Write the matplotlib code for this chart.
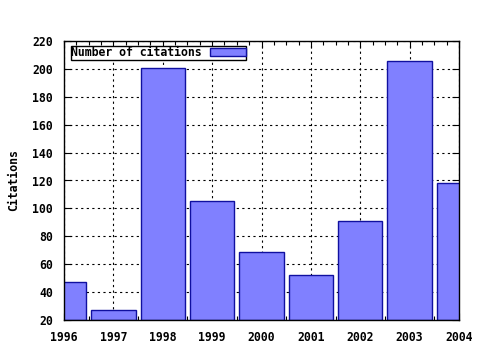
import matplotlib
matplotlib.use("Agg")
import matplotlib.pyplot as plt
from matplotlib.ticker import MultipleLocator, AutoMinorLocator

years = [1996, 1997, 1998, 1999, 2000, 2001, 2002, 2003, 2004]
citations = [47, 27, 201, 105, 69, 52, 91, 206, 118]
series_label = "Number of citations"
y_label = "Citations"

FS = 8.3
plt.rcParams["font.family"] = "DejaVu Sans Mono"
plt.rcParams["font.weight"] = "bold"

fig = plt.figure(figsize=(4.8, 3.5), dpi=100)
ax = fig.add_axes([64/480, 1-320/350, (459-64)/480, (320-41)/350])

ax.bar(years, [c - 20 for c in citations], bottom=20, width=0.9,
       color="#8080ff", edgecolor="#1010a0", linewidth=1.0,
       label=series_label, zorder=3)

ax.set_xlim(1996, 2004)
ax.set_ylim(20, 220)
ax.xaxis.set_major_locator(MultipleLocator(1))
ax.xaxis.set_minor_locator(AutoMinorLocator(4))
ax.yaxis.set_major_locator(MultipleLocator(20))
ax.tick_params(which="both", direction="in", top=True, right=True, labelsize=FS, width=0.8)
ax.tick_params(which="major", length=5)
ax.tick_params(which="minor", length=3)
ax.tick_params(axis="x", pad=8)
ax.tick_params(axis="y", pad=8)
for lbl in ax.get_xticklabels() + ax.get_yticklabels():
    lbl.set_fontweight("bold")
ax.grid(True, which="major", color="black", linestyle=(0, (2, 3)), linewidth=0.8, zorder=0)
ax.set_axisbelow(True)
for s in ax.spines.values():
    s.set_linewidth(1.0)
    s.set_zorder(5)

ax.set_ylabel(y_label, fontsize=FS, fontweight="bold", labelpad=9)

leg = ax.legend(loc="upper left", markerfirst=False, fancybox=False, framealpha=1,
                edgecolor="black", prop={"family": "DejaVu Sans Mono", "weight": "bold", "size": FS},
                borderpad=0.05, handlelength=3.1, handleheight=0.6, borderaxespad=0.4,
                handletextpad=0.7, bbox_to_anchor=(0.005, 1.0))
leg.get_frame().set_linewidth(1.0)

fig.savefig("out.png", dpi=100)
